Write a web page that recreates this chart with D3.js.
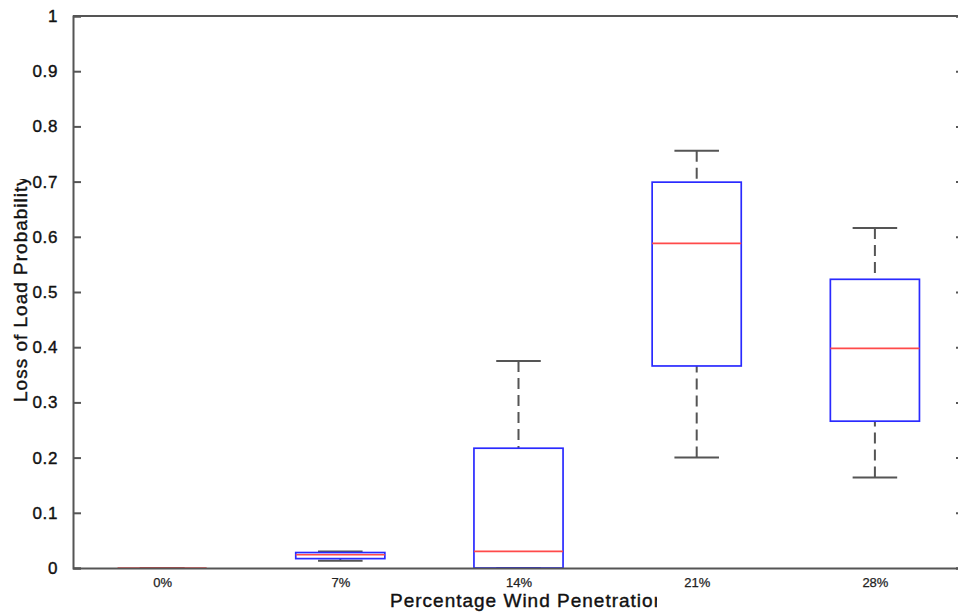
<!DOCTYPE html>
<html lang="en">
  <head>
    <meta charset="UTF-8">
    <title>Loss of Load Probability</title>
    <style>
      body { margin: 0; background: #fff; }
      svg { display: block; font-family: "Liberation Sans", Arial, sans-serif; }
    </style>
    <script src="https://d3js.org/d3.v7.min.js"></script>
  </head>
  <body>
    <script>
      // values
      var categories = ["0%", "7%", "14%", "21%", "28%"];
      var lowerWhisker = [0, 0.013, 0, 0.200, 0.164];
      var q1 = [0, 0.017, 0, 0.366, 0.266];
      var median = [0, 0.024, 0.030, 0.588, 0.398];
      var q3 = [0, 0.028, 0.217, 0.699, 0.523];
      var upperWhisker = [0, 0.030, 0.375, 0.756, 0.616];
      var yTicks = [0, 0.1, 0.2, 0.3, 0.4, 0.5, 0.6, 0.7, 0.8, 0.9, 1];

      var width = 958, height = 614;
      var plotLeft = 73, plotRight = 964, plotTop = 16, plotBottom = 568;
      var axisColor = "#555";

      var boxes = categories.map(function (c, i) {
        return { cat: c, pos: i + 1, lo: lowerWhisker[i], q1: q1[i], med: median[i], q3: q3[i], hi: upperWhisker[i] };
      });

      var x = d3.scaleLinear().domain([0.5, categories.length + 0.5]).range([plotLeft, plotRight]);
      var y = d3.scaleLinear().domain([0, 1]).range([plotBottom, plotTop]);
      var boxW = x(1.25) - x(1);   // half box width (0.5 units wide box)
      var capW = x(1.125) - x(1);

      var svg = d3.select("body").append("svg")
        .attr("width", width)
        .attr("height", height);

      var g = svg.selectAll("g.box").data(boxes).enter().append("g").attr("class", "box");

      // whiskers, dashed from the cap towards the box
      g.append("line")
        .attr("x1", function (d) { return x(d.pos); })
        .attr("x2", function (d) { return x(d.pos); })
        .attr("y1", function (d) { return y(d.hi); })
        .attr("y2", function (d) { return y(d.q3); })
        .attr("stroke", axisColor).attr("stroke-width", 2).attr("stroke-dasharray", "11,6");
      g.append("line")
        .attr("x1", function (d) { return x(d.pos); })
        .attr("x2", function (d) { return x(d.pos); })
        .attr("y1", function (d) { return y(d.lo); })
        .attr("y2", function (d) { return y(d.q1); })
        .attr("stroke", axisColor).attr("stroke-width", 2).attr("stroke-dasharray", "11,6");
      // caps
      ["hi", "lo"].forEach(function (k) {
        g.append("line")
          .attr("x1", function (d) { return x(d.pos) - capW; })
          .attr("x2", function (d) { return x(d.pos) + capW; })
          .attr("y1", function (d) { return y(d[k]); })
          .attr("y2", function (d) { return y(d[k]); })
          .attr("stroke", axisColor).attr("stroke-width", 2);
      });
      // box
      g.append("rect")
        .attr("x", function (d) { return x(d.pos) - boxW; })
        .attr("y", function (d) { return y(d.q3); })
        .attr("width", boxW * 2)
        .attr("height", function (d) { return y(d.q1) - y(d.q3); })
        .attr("fill", "none").attr("stroke", "#2a2aff").attr("stroke-width", 1.7);
      // median
      g.append("line")
        .attr("x1", function (d) { return x(d.pos) - boxW; })
        .attr("x2", function (d) { return x(d.pos) + boxW; })
        .attr("y1", function (d) { return y(d.med); })
        .attr("y2", function (d) { return y(d.med); })
        .attr("stroke", "#ff4a4a").attr("stroke-width", 1.7);

      // axes
      var yAxis = d3.axisLeft(y).tickValues(yTicks).tickSize(-8).tickPadding(15).tickFormat(d3.format("~g"));
      var yAxisR = d3.axisRight(y).tickValues(yTicks).tickSize(-8).tickFormat("");
      var xAxis = d3.axisBottom(x).tickValues(boxes.map(function (d) { return d.pos; }))
        .tickSize(0).tickPadding(10)
        .tickFormat(function (d) { return categories[d - 1]; });

      var ya = svg.append("g").attr("transform", "translate(" + plotLeft + ",0)").call(yAxis);
      ya.selectAll("text").attr("font-size", 17).attr("letter-spacing", 0.6)
        .attr("fill", "#111").attr("stroke", "#111").attr("stroke-width", 0.4);
      svg.append("g").attr("transform", "translate(" + plotRight + ",0)").call(yAxisR);

      var xa = svg.append("g").attr("transform", "translate(0," + plotBottom + ")").call(xAxis);
      xa.selectAll("text").attr("font-size", 13).attr("fill", "#222")
        .attr("stroke", "#222").attr("stroke-width", 0.25);

      svg.selectAll(".domain, .tick line").attr("stroke", axisColor).attr("stroke-width", 2);
      svg.selectAll("g").attr("font-family", null);

      // top frame
      svg.append("line")
        .attr("x1", plotLeft).attr("x2", plotRight)
        .attr("y1", plotTop).attr("y2", plotTop)
        .attr("stroke", axisColor).attr("stroke-width", 2);

      // axis titles (clipped as in the original figure)
      var defs = svg.append("defs");
      defs.append("clipPath").attr("id", "clipX")
        .append("rect").attr("x", 0).attr("y", 585).attr("width", 657).attr("height", 30);
      defs.append("clipPath").attr("id", "clipY")
        .append("rect").attr("x", 0).attr("y", 179).attr("width", 40).attr("height", 300);

      svg.append("g").attr("clip-path", "url(#clipX)")
        .append("text")
        .attr("x", 390).attr("y", 607)
        .attr("font-size", 19).attr("letter-spacing", 1)
        .attr("fill", "#111").attr("stroke", "#111").attr("stroke-width", 0.4)
        .text("Percentage Wind Penetration");

      svg.append("g").attr("clip-path", "url(#clipY)")
        .append("text")
        .attr("transform", "translate(27,402) rotate(-90)")
        .attr("font-size", 19).attr("letter-spacing", 1)
        .attr("fill", "#111").attr("stroke", "#111").attr("stroke-width", 0.4)
        .text("Loss of Load Probability");
    </script>
  </body>
</html>
